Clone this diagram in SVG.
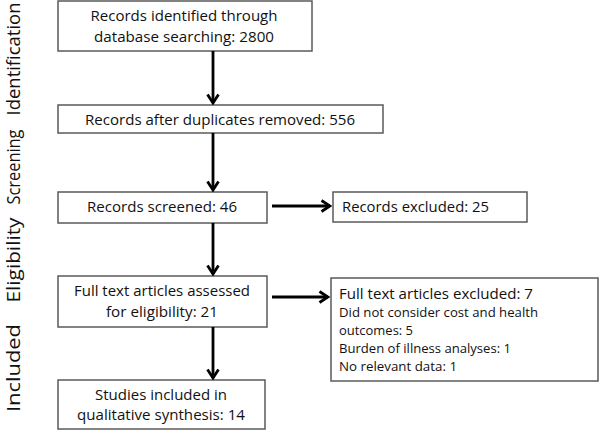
<svg xmlns="http://www.w3.org/2000/svg" width="600" height="440" viewBox="0 0 600 440">
<defs>
<style>
.box{fill:#fff;stroke:#5a5a5a;stroke-width:1.5}
.t{font-family:"Open Sans","Noto Sans",sans-serif;font-size:15px;fill:#111}
.s{font-family:"Open Sans","Noto Sans",sans-serif;font-size:13px;fill:#111}
.side{font-family:"Open Sans","Noto Sans",sans-serif;font-size:19px;fill:#111}
.c{text-anchor:middle}
.arr{stroke:#000;stroke-width:2.8;fill:none;marker-end:url(#ah)}
</style>
<marker id="ah" viewBox="0 0 12 14" refX="10" refY="7" markerWidth="12" markerHeight="14" markerUnits="userSpaceOnUse" orient="auto">
<path d="M1.5,1.5 L10,7 L1.5,12.5" fill="none" stroke="#000" stroke-width="2.8"/>
</marker>
</defs>
<rect width="600" height="440" fill="#fff"/>
<g id="labels">
<text class="side c" transform="translate(20,59) rotate(-90)" textLength="113" lengthAdjust="spacingAndGlyphs">Identification</text>
<text class="side c" transform="translate(20,167) rotate(-90)" textLength="75" lengthAdjust="spacingAndGlyphs">Screening</text>
<text class="side c" transform="translate(20,260) rotate(-90)" textLength="85" lengthAdjust="spacingAndGlyphs">Eligibility</text>
<text class="side c" transform="translate(20,368) rotate(-90)" textLength="88" lengthAdjust="spacingAndGlyphs">Included</text>
</g>
<g id="n1">
<rect class="box" x="58" y="1" width="254" height="50"/>
<text class="t c" x="184" y="21" textLength="187" lengthAdjust="spacingAndGlyphs">Records identified through</text>
<text class="t c" x="184" y="42" textLength="180" lengthAdjust="spacingAndGlyphs">database searching: 2800</text>
</g>
<g id="n2">
<rect class="box" x="58" y="105" width="325" height="28"/>
<text class="t c" x="220" y="125" textLength="270" lengthAdjust="spacingAndGlyphs">Records after duplicates removed: 556</text>
</g>
<g id="n3">
<rect class="box" x="58" y="192" width="209" height="31"/>
<text class="t c" x="162" y="212" textLength="150" lengthAdjust="spacingAndGlyphs">Records screened: 46</text>
</g>
<g id="n4">
<rect class="box" x="58" y="276" width="209" height="51"/>
<text class="t c" x="162" y="296" textLength="176" lengthAdjust="spacingAndGlyphs">Full text articles assessed</text>
<text class="t c" x="162" y="317" textLength="112" lengthAdjust="spacingAndGlyphs">for eligibility: 21</text>
</g>
<g id="n5">
<rect class="box" x="58" y="380" width="207" height="49"/>
<text class="t c" x="161" y="400" textLength="132" lengthAdjust="spacingAndGlyphs">Studies included in</text>
<text class="t c" x="161" y="420" textLength="168" lengthAdjust="spacingAndGlyphs">qualitative synthesis: 14</text>
</g>
<g id="n6">
<rect class="box" x="333" y="192" width="194" height="30"/>
<text class="t" x="342" y="212" textLength="147" lengthAdjust="spacingAndGlyphs">Records excluded: 25</text>
</g>
<g id="n7">
<rect class="box" x="331" y="278" width="267" height="103"/>
<text class="t" x="339" y="299" textLength="194" lengthAdjust="spacingAndGlyphs">Full text articles excluded: 7</text>
<text class="s" x="339" y="317" textLength="199" lengthAdjust="spacingAndGlyphs">Did not consider cost and health</text>
<text class="s" x="339" y="335" textLength="74" lengthAdjust="spacingAndGlyphs">outcomes: 5</text>
<text class="s" x="339" y="353" textLength="172" lengthAdjust="spacingAndGlyphs">Burden of illness analyses: 1</text>
<text class="s" x="339" y="371" textLength="118" lengthAdjust="spacingAndGlyphs">No relevant data: 1</text>
</g>
<g id="connectors">
<line class="arr" x1="213" y1="51" x2="213" y2="103"/>
<line class="arr" x1="213" y1="133" x2="213" y2="190"/>
<line class="arr" x1="213" y1="223" x2="213" y2="274"/>
<line class="arr" x1="213" y1="327" x2="213" y2="378"/>
<line class="arr" x1="272" y1="206" x2="330" y2="206"/>
<line class="arr" x1="272" y1="297" x2="328" y2="297"/>
</g>
</svg>
